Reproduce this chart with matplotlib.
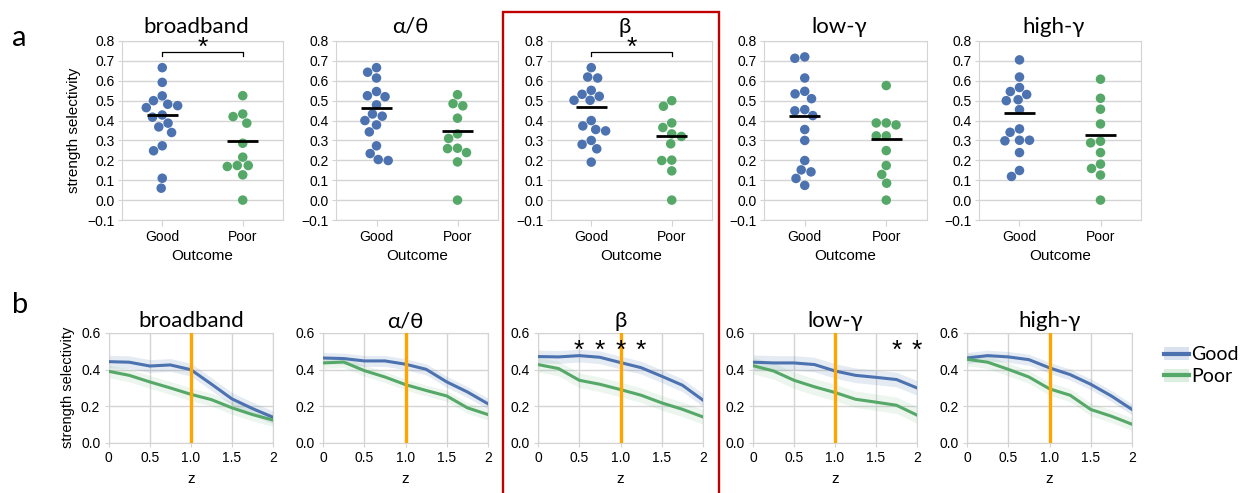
import matplotlib
matplotlib.use("Agg")
import matplotlib.pyplot as plt
import numpy as np
from matplotlib.patches import Rectangle, Patch
from matplotlib.lines import Line2D

plt.rcParams['font.family'] = ['Liberation Sans', 'DejaVu Sans']
TITLE_FONT = ['Lato', 'DejaVu Sans']

bands = ["broadband", "α/θ", "β", "low-γ", "high-γ"]
outcomes = ["Good", "Poor"]

# --- panel a: per-patient strength selectivity ---
good_vals = [
    [0.666, 0.592, 0.524, 0.500, 0.475, 0.482, 0.465, 0.417, 0.428, 0.368, 0.387, 0.340, 0.273, 0.248, 0.110, 0.060],
    [0.666, 0.643, 0.614, 0.525, 0.520, 0.546, 0.479, 0.422, 0.433, 0.378, 0.400, 0.343, 0.273, 0.234, 0.204, 0.199],
    [0.666, 0.619, 0.614, 0.552, 0.532, 0.522, 0.502, 0.502, 0.400, 0.355, 0.373, 0.348, 0.300, 0.280, 0.258, 0.191],
    [0.720, 0.713, 0.614, 0.534, 0.547, 0.510, 0.449, 0.455, 0.425, 0.355, 0.300, 0.199, 0.152, 0.142, 0.109, 0.074],
    [0.705, 0.619, 0.546, 0.566, 0.531, 0.505, 0.500, 0.455, 0.358, 0.341, 0.301, 0.298, 0.301, 0.239, 0.149, 0.119],
]
poor_vals = [
    [0.525, 0.420, 0.433, 0.387, 0.286, 0.216, 0.174, 0.169, 0.174, 0.127, 0.000],
    [0.530, 0.485, 0.474, 0.412, 0.333, 0.310, 0.259, 0.239, 0.261, 0.192, 0.000],
    [0.500, 0.472, 0.388, 0.365, 0.320, 0.333, 0.283, 0.201, 0.199, 0.147, 0.000],
    [0.576, 0.388, 0.378, 0.388, 0.323, 0.323, 0.249, 0.174, 0.129, 0.085, 0.000],
    [0.608, 0.512, 0.457, 0.383, 0.296, 0.288, 0.239, 0.181, 0.159, 0.126, 0.000],
]
good_means = [0.428, 0.462, 0.470, 0.425, 0.440]
poor_means = [0.296, 0.350, 0.323, 0.305, 0.328]
sig_a = [True, False, True, False, False]

# --- panel b: selectivity vs z threshold ---
z = [0, 0.25, 0.5, 0.75, 1.0, 1.25, 1.5, 1.75, 2.0]
good_curve = [
    [0.443, 0.440, 0.419, 0.425, 0.399, 0.320, 0.239, 0.186, 0.138],
    [0.463, 0.460, 0.447, 0.447, 0.429, 0.401, 0.332, 0.277, 0.212],
    [0.471, 0.469, 0.476, 0.467, 0.438, 0.410, 0.363, 0.314, 0.232],
    [0.440, 0.436, 0.436, 0.427, 0.392, 0.368, 0.357, 0.345, 0.299],
    [0.463, 0.476, 0.469, 0.454, 0.409, 0.372, 0.319, 0.255, 0.181],
]
poor_curve = [
    [0.390, 0.368, 0.332, 0.299, 0.264, 0.235, 0.190, 0.153, 0.123],
    [0.436, 0.441, 0.394, 0.359, 0.317, 0.285, 0.255, 0.190, 0.153],
    [0.427, 0.405, 0.341, 0.319, 0.290, 0.259, 0.217, 0.182, 0.140],
    [0.421, 0.392, 0.341, 0.305, 0.274, 0.237, 0.221, 0.204, 0.150],
    [0.456, 0.440, 0.401, 0.359, 0.294, 0.259, 0.181, 0.144, 0.100],
]
good_sem = [0.035, 0.030, 0.035, 0.040, 0.030]
poor_sem = [0.035, 0.030, 0.040, 0.045, 0.035]
sig_b = [[], [], [0.5, 0.75, 1.0, 1.25], [1.75, 2.0], []]

BLUE = '#4C72B0'
GREEN = '#55A868'
GRID = '#d4d4d4'
W, H = 1242, 493

top_x = [(122, 283), (336, 498), (551, 712), (764, 927), (979, 1141)]
bot_x = [(108.7, 273), (323, 488), (538, 703), (753, 917), (967, 1132)]


def swarm_offsets(vals, d_px, ppu_x, ppu_y):
    vals = np.asarray(vals)
    placed = []
    offs = np.zeros(len(vals))
    for i in np.argsort(-vals, kind='stable'):
        y = vals[i] * ppu_y
        cands = [0.0]
        for px, py in placed:
            dy = y - py
            if abs(dy) < d_px:
                dx = np.sqrt(d_px ** 2 - dy ** 2)
                cands += [px - dx, px + dx]
        cands.sort(key=abs)
        for c in cands:
            if all((c - px) ** 2 + (y - py) ** 2 >= d_px ** 2 - 1e-6 for px, py in placed):
                break
        placed.append((c, y))
        offs[i] = c / ppu_x
    return offs


fig = plt.figure(figsize=(W / 100, H / 100), dpi=100)

for k in range(5):
    x0, x1 = top_x[k]
    ax = fig.add_axes([x0 / W, 1 - 220 / H, (x1 - x0) / W, 179 / H])
    ax.set_xlim(-0.5, 1.5)
    ax.set_ylim(-0.1, 0.8)
    ppu_x = (x1 - x0) / 2.0
    ppu_y = 179 / 0.9
    for j, (vals, col, m) in enumerate([(good_vals[k], BLUE, good_means[k]),
                                        (poor_vals[k], GREEN, poor_means[k])]):
        offs = swarm_offsets(vals, 10.0, ppu_x, ppu_y)
        ax.scatter(j + offs, vals, s=47, color=col, edgecolors='none', zorder=3)
        ax.plot([j - 0.19, j + 0.19], [m, m], color='black', lw=2, zorder=4,
                solid_capstyle='butt')
    if sig_a[k]:
        ax.plot([0, 0, 1, 1], [0.727, 0.745, 0.745, 0.727], color='black', lw=0.9, zorder=4)
        ax.text(0.5, 0.765, '*', ha='center', va='center', fontsize=19)
    yt = np.round(np.arange(-0.1, 0.81, 0.1), 1)
    ax.set_yticks(yt)
    ax.set_yticklabels([f"{v:.1f}".replace('-', '\u2212') for v in yt])
    ax.set_xticks([0, 1])
    ax.set_xticklabels(outcomes)
    ax.set_xlabel("Outcome", fontsize=11, labelpad=4)
    ax.yaxis.grid(True, color=GRID, lw=1)
    ax.set_axisbelow(True)
    for s in ax.spines.values():
        s.set_color(GRID)
    ax.tick_params(axis='y', length=3, color=GRID, labelsize=10, pad=2)
    ax.tick_params(axis='x', length=4, color=GRID, labelsize=10, pad=3)
    ax.set_title(bands[k], fontsize=16, family=TITLE_FONT, pad=6, x=0.46)
    if k == 0:
        ax.set_ylabel("strength selectivity", fontsize=11)
        ax.yaxis.set_label_coords(-0.255, 0.5)

for k in range(5):
    x0, x1 = bot_x[k]
    ax = fig.add_axes([x0 / W, 1 - 442.5 / H, (x1 - x0) / W, 109.5 / H])
    g = np.array(good_curve[k])
    p = np.array(poor_curve[k])
    ax.fill_between(z, g - good_sem[k], g + good_sem[k], color=BLUE, alpha=0.14, lw=0)
    ax.fill_between(z, p - poor_sem[k], p + poor_sem[k], color=GREEN, alpha=0.11, lw=0)
    ax.plot(z, g, color=BLUE, lw=2.2, zorder=3)
    ax.plot(z, p, color=GREEN, lw=2.2, zorder=3)
    ax.axvline(1.0, color='#FFA500', lw=2.4, zorder=4)
    for zs in sig_b[k]:
        ax.text(zs, 0.50, '*', ha='center', va='center', fontsize=19, zorder=5)
    ax.set_xlim(0, 2)
    ax.set_ylim(0, 0.6)
    ax.set_xticks([0, 0.5, 1.0, 1.5, 2.0])
    ax.set_xticklabels(["0", "0.5", "1.0", "1.5", "2"])
    ax.set_yticks([0, 0.2, 0.4, 0.6])
    ax.set_yticklabels(["0.0", "0.2", "0.4", "0.6"])
    ax.grid(True, color=GRID, lw=1)
    ax.set_axisbelow(True)
    for s in ax.spines.values():
        s.set_color(GRID)
    ax.tick_params(length=3, color=GRID, labelsize=10, pad=3)
    ax.set_xlabel("z", fontsize=11, labelpad=5)
    ax.set_title(bands[k], fontsize=16, family=TITLE_FONT, pad=4)
    if k == 0:
        ax.set_ylabel("strength selectivity", fontsize=10.5)
        ax.yaxis.set_label_coords(-0.205, 0.5)

handles = [(Patch(color=BLUE, alpha=0.2, lw=0), Line2D([], [], color=BLUE, lw=3)),
           (Patch(color=GREEN, alpha=0.2, lw=0), Line2D([], [], color=GREEN, lw=3))]
fig.legend(handles, outcomes, loc='center left', bbox_to_anchor=(0.929, 0.258),
           frameon=False, handlelength=1.3, handletextpad=0.1,
           labelspacing=0.25, borderpad=0, prop={'family': TITLE_FONT, 'size': 14})

fig.text(12 / W, 1 - 46 / H, "a", fontsize=21, family=TITLE_FONT, va='baseline')
fig.text(12 / W, 1 - 313 / H, "b", fontsize=21, family=TITLE_FONT, va='baseline')

fig.add_artist(Rectangle((503 / W, -0.02), 216 / W, 1 - 12 / H + 0.02,
                         transform=fig.transFigure, fill=False,
                         edgecolor='#C00000', lw=1.7))

fig.savefig("out.png", dpi=100)
